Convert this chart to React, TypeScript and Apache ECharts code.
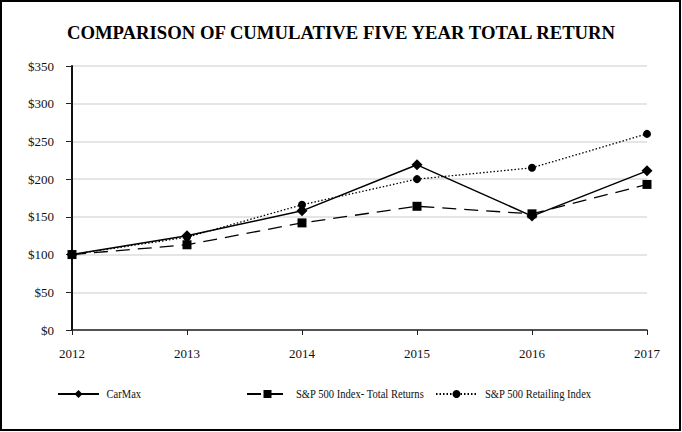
import React, { useEffect, useRef } from "react";
import * as echarts from "echarts";

const years = ["2012", "2013", "2014", "2015", "2016", "2017"];
const carmax = [100, 125, 158, 219, 151, 211];
const sp500 = [100, 113, 142, 164, 154, 193];
const retailing = [100, 123, 166, 200, 215, 260];
const seriesNames = ["CarMax", "S&P 500 Index- Total Returns", "S&P 500 Retailing Index"];

const FONT = "'Liberation Serif', 'Times New Roman', serif";

export default function App() {
  const ref = useRef<HTMLDivElement>(null);
  useEffect(() => {
    const chart = echarts.init(ref.current!, null, { renderer: "svg" });
    const legendBase = {
      top: 389,
      padding: 0,
      itemWidth: 41,
      itemHeight: 10,
      itemGap: 0,
      formatter: () => "",
      textStyle: { fontFamily: FONT, fontSize: 12, color: "#111", padding: 0 },
    };
    const legendLeft = [57, 246, 435];
    const textLeft = [106.5, 296, 485];
    chart.setOption({
      animation: false,
      backgroundColor: "#fff",
      title: {
        text: "COMPARISON OF CUMULATIVE FIVE YEAR TOTAL RETURN",
        left: "center",
        top: 18,
        textStyle: { fontFamily: FONT, fontSize: 18.7, fontWeight: "bold", color: "#000" },
      },
      graphic: [
        {
          type: "rect",
          shape: { x: 1, y: 1, width: 679, height: 429 },
          style: { fill: "none", stroke: "#000", lineWidth: 2 },
          silent: true,
        },
        ...seriesNames.map((n, i) => ({
          type: "text",
          x: textLeft[i],
          y: 394,
          scaleX: 0.92,
          style: {
            text: n,
            x: 0,
            y: 0,
            fontFamily: FONT,
            fontSize: 11.5,
            fill: "#111",
            verticalAlign: "middle",
            align: "left",
          },
          silent: true,
        })),
      ],
      legend: seriesNames.map((n, i) => ({ ...legendBase, left: legendLeft[i], data: [n] })),
      grid: { left: 72, right: 35, top: 66, bottom: 102 },
      xAxis: {
        type: "category",
        data: years,
        boundaryGap: false,
        axisLine: { lineStyle: { color: "#222", width: 1.5 } },
        axisTick: { show: true, length: 5, lineStyle: { color: "#222" } },
        axisLabel: { fontFamily: FONT, fontSize: 13, color: "#111", margin: 17 },
        splitLine: { show: false },
      },
      yAxis: {
        type: "value",
        min: 0,
        max: 350,
        interval: 50,
        axisLine: { show: true, lineStyle: { color: "#111", width: 2 } },
        axisTick: { show: true, length: 6, lineStyle: { color: "#222" } },
        axisLabel: {
          fontFamily: FONT,
          fontSize: 13,
          color: "#111",
          margin: 18,
          formatter: (v: number) => "$" + v,
        },
        splitLine: { show: true, lineStyle: { color: "#ddd", width: 1.5 } },
      },
      series: [
        {
          name: seriesNames[0],
          type: "line",
          data: carmax,
          symbol: "diamond",
          symbolSize: 11,
          itemStyle: { color: "#000" },
          lineStyle: { color: "#000", width: 1.5, type: "solid" },
          z: 5,
        },
        {
          name: seriesNames[1],
          type: "line",
          data: sp500,
          symbol: "rect",
          symbolSize: 9,
          itemStyle: { color: "#000" },
          lineStyle: { color: "#000", width: 1.3, type: [14, 8] },
          z: 4,
        },
        {
          name: seriesNames[2],
          type: "line",
          data: retailing,
          symbol: "circle",
          symbolSize: 8,
          itemStyle: { color: "#000" },
          lineStyle: { color: "#000", width: 1.3, type: [1.5, 2] },
          z: 3,
        },
      ],
    });
    return () => chart.dispose();
  }, []);
  return (
    <div
      ref={ref}
      style={{ position: "fixed", left: 0, top: 0, width: 682, height: 432 }}
    />
  );
}
